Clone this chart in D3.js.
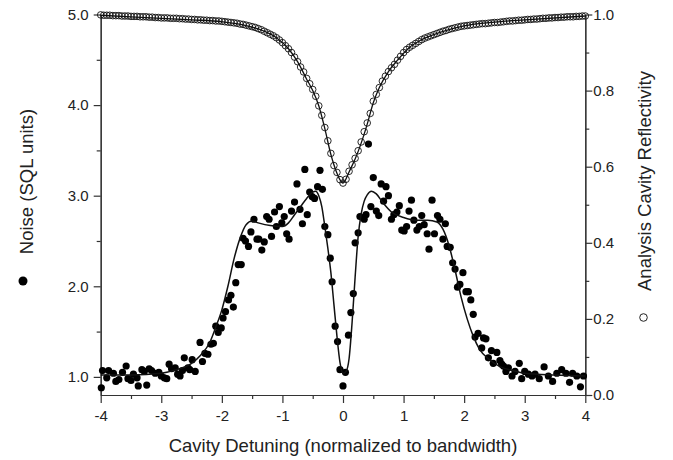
<!DOCTYPE html>
<html>
<head>
<meta charset="utf-8">
<script src="https://cdn.jsdelivr.net/npm/d3@7"></script>
<style>
  body { margin: 0; background: #fff; }
  svg { font-family: "Liberation Sans", Arial, sans-serif; }
  .axis path, .axis line { stroke: #333; stroke-width: 1.2; }
  .axis text { font-size: 15px; fill: #222; }
</style>
</head>
<body>
<svg id="chart" width="673" height="460"></svg>
<script>
// noise data (filled dots): detuning, noise in SQL units
const noiseX = [-3.99,-3.97,-3.90,-3.87,-3.79,-3.75,-3.70,-3.64,-3.58,-3.55,-3.50,-3.46,-3.40,-3.38,-3.32,-3.28,-3.24,-3.20,-3.16,-3.10,
  -3.04,-3.00,-2.95,-2.91,-2.87,-2.83,-2.77,-2.73,-2.69,-2.65,-2.62,-2.56,-2.53,-2.49,-2.44,-2.36,-2.32,-2.28,-2.23,-2.18,
  -2.14,-2.10,-2.06,-2.01,-1.98,-1.94,-1.89,-1.85,-1.81,-1.77,-1.73,-1.68,-1.65,-1.61,-1.56,-1.52,-1.47,-1.42,-1.39,-1.34,
  -1.30,-1.26,-1.22,-1.18,-1.13,-1.10,-1.05,-1.01,-0.97,-0.93,-0.89,-0.85,-0.80,-0.76,-0.71,-0.67,-0.63,-0.59,-0.55,-0.51,
  -0.47,-0.42,-0.38,-0.34,-0.30,-0.25,-0.21,-0.18,-0.13,-0.09,-0.05,0.00,0.04,0.09,0.13,0.17,0.20,0.25,0.28,0.35,
  0.38,0.42,0.46,0.50,0.55,0.59,0.63,0.67,0.71,0.75,0.80,0.84,0.89,0.93,0.97,1.01,1.05,1.09,1.13,1.17,
  1.22,1.26,1.30,1.34,1.39,1.42,1.47,1.51,1.56,1.60,1.65,1.69,1.72,1.77,1.81,1.85,1.89,1.93,1.98,2.03,
  2.07,2.11,2.15,2.18,2.23,2.29,2.32,2.36,2.40,2.45,2.48,2.54,2.59,2.62,2.65,2.69,2.73,2.79,2.84,2.91,
  2.95,3.00,3.06,3.12,3.17,3.24,3.32,3.39,3.46,3.53,3.61,3.68,3.74,3.79,3.86,3.92,3.97];
const noiseY = [0.88,1.07,0.99,1.07,1.04,0.95,0.97,1.05,1.12,0.98,0.96,1.03,0.99,0.90,1.08,1.06,0.91,1.09,1.07,1.04,
  1.05,1.01,0.99,0.98,1.14,1.09,1.10,1.03,1.01,1.07,1.21,1.10,1.08,1.19,1.06,1.38,1.17,1.26,1.25,1.36,
  1.37,1.56,1.49,1.54,1.65,1.72,1.85,1.90,1.77,2.04,2.24,2.24,2.53,2.50,2.44,2.60,2.74,2.52,2.52,2.40,
  2.49,2.77,2.74,2.55,2.82,2.66,2.88,2.70,2.77,2.58,2.52,2.83,2.93,3.13,2.85,2.69,3.29,2.79,3.04,2.99,
  2.97,3.10,3.28,3.07,2.66,2.57,2.31,2.05,1.56,1.39,1.08,0.90,1.05,1.46,1.71,1.92,2.48,2.59,2.77,2.74,
  2.79,3.57,2.88,3.20,2.83,2.78,3.13,2.94,3.10,3.00,2.74,2.79,2.82,2.89,2.62,2.61,2.66,2.83,2.95,2.73,
  2.62,2.66,2.78,2.68,2.58,2.41,2.95,2.58,2.78,2.74,2.52,2.69,2.44,2.43,2.26,2.19,1.99,2.02,2.15,1.94,
  1.94,1.85,1.69,1.44,1.48,1.32,1.43,1.42,1.21,1.29,1.15,1.27,1.18,1.14,1.12,1.06,1.10,1.01,1.06,1.15,
  0.98,1.06,1.03,1.01,1.03,0.98,1.11,1.01,0.95,1.04,1.08,1.04,0.94,1.04,1.01,0.89,1.01];

// noise fit (solid line)
const noiseFitX = [-4.0,-3.5,-3.0,-2.75,-2.5,-2.35,-2.2,-2.1,-2.0,-1.9,-1.8,-1.7,-1.6,-1.5,-1.4,-1.2,-1.0,-0.9,-0.8,-0.7,
  -0.6,-0.5,-0.45,-0.4,-0.35,-0.3,-0.25,-0.2,-0.15,-0.1,-0.05,0.0,0.05,0.1,0.15,0.2,0.25,0.3,0.35,0.4,
  0.47,0.55,0.65,0.8,1.0,1.2,1.4,1.55,1.65,1.75,1.85,1.95,2.05,2.15,2.25,2.4,2.6,2.8,3.0,3.5,4.0];
const noiseFitY = [1.02,1.02,1.04,1.08,1.15,1.24,1.38,1.55,1.74,2.00,2.30,2.53,2.68,2.72,2.70,2.67,2.66,2.70,2.79,2.88,
  2.97,3.04,3.05,3.00,2.88,2.66,2.42,2.15,1.80,1.45,1.16,1.04,1.06,1.20,1.60,2.10,2.55,2.80,2.94,3.01,
  3.05,3.02,2.93,2.82,2.76,2.73,2.73,2.71,2.63,2.45,2.18,1.88,1.64,1.45,1.31,1.20,1.11,1.07,1.04,1.02,1.01];

// reflectivity data (open circles), detuning grid -4 .. 4 in 0.05 steps
const reflX = d3.range(161).map(i => -4 + i * 0.05);
const reflY = [
  0.999,0.998,0.998,0.998,0.997,0.997,0.997,0.996,0.996,0.996,
  0.995,0.995,0.995,0.994,0.994,0.994,0.993,0.993,0.992,0.992,
  0.991,0.991,0.991,0.990,0.990,0.990,0.989,0.989,0.988,0.988,
  0.987,0.987,0.986,0.986,0.985,0.985,0.984,0.984,0.983,0.983,
  0.982,0.981,0.980,0.979,0.978,0.977,0.975,0.974,0.972,0.970,
  0.968,0.966,0.963,0.960,0.956,0.952,0.948,0.944,0.939,0.933,
  0.926,0.918,0.910,0.900,0.888,0.876,0.862,0.849,0.832,0.818,
  0.803,0.785,0.760,0.735,0.703,0.668,0.635,0.603,0.585,0.566,
  0.557,
  0.567,0.588,0.605,0.622,0.642,0.665,0.692,0.715,0.740,0.772,
  0.790,0.808,0.825,0.838,0.850,0.860,0.869,0.880,0.890,0.900,
  0.908,0.914,0.919,0.924,0.929,0.934,0.938,0.941,0.944,0.947,
  0.950,0.953,0.956,0.958,0.961,0.963,0.965,0.967,0.969,0.970,
  0.971,0.972,0.973,0.974,0.975,0.976,0.976,0.977,0.978,0.979,
  0.979,0.980,0.981,0.982,0.983,0.983,0.984,0.985,0.985,0.986,
  0.987,0.987,0.988,0.988,0.989,0.990,0.990,0.991,0.991,0.992,
  0.992,0.993,0.993,0.994,0.994,0.994,0.995,0.995,0.996,0.996];

// reflectivity fit (solid line)
const reflFitX = [-4.0,-3.0,-2.5,-2.0,-1.6,-1.3,-1.1,-0.9,-0.75,-0.6,-0.5,-0.4,-0.3,-0.2,-0.1,-0.03,0.0,
  0.03,0.1,0.2,0.3,0.4,0.5,0.6,0.75,0.9,1.1,1.3,1.6,2.0,2.5,3.0,4.0];
const reflFitY = [0.998,0.990,0.986,0.981,0.971,0.956,0.939,0.910,0.876,0.830,0.800,0.760,0.700,0.632,0.583,0.561,0.557,
  0.562,0.586,0.620,0.662,0.712,0.768,0.808,0.850,0.880,0.914,0.934,0.953,0.970,0.980,0.986,0.996];

const xTicks = [-4, -3, -2, -1, 0, 1, 2, 3, 4];
const yLeftTicks = [1, 2, 3, 4, 5];
const yRightTicks = [0, 0.2, 0.4, 0.6, 0.8, 1.0];

const svg = d3.select('#chart');
const x = d3.scaleLinear().domain([-4, 4]).range([100.7, 585.3]);
const yL = d3.scaleLinear().domain([0.8, 5]).range([395, 14.5]);
const yR = d3.scaleLinear().domain([0, 1]).range([395, 14.5]);

// axes: major ticks labelled, minor ticks shorter
const minorX = d3.range(-3.5, 4, 1);
svg.append('g').attr('class', 'axis').attr('transform', 'translate(0,395)')
  .call(d3.axisBottom(x).tickValues(minorX).tickSize(4).tickFormat('').tickSizeOuter(0));
svg.append('g').attr('class', 'axis').attr('transform', 'translate(0,395)')
  .call(d3.axisBottom(x).tickValues(xTicks).tickSize(8).tickSizeOuter(0).tickPadding(7).tickFormat(d => String(d)));

svg.append('g').attr('class', 'axis').attr('transform', 'translate(100.7,0)')
  .call(d3.axisLeft(yL).tickValues([1.5, 2.5, 3.5, 4.5]).tickSize(4).tickFormat('').tickSizeOuter(0));
svg.append('g').attr('class', 'axis').attr('transform', 'translate(100.7,0)')
  .call(d3.axisLeft(yL).tickValues(yLeftTicks).tickSize(7).tickSizeOuter(0).tickPadding(5).tickFormat(d3.format('.1f')));

svg.append('g').attr('class', 'axis').attr('transform', 'translate(585.3,0)')
  .call(d3.axisRight(yR).tickValues([0.1, 0.3, 0.5, 0.7, 0.9]).tickSize(4).tickFormat('').tickSizeOuter(0));
svg.append('g').attr('class', 'axis').attr('transform', 'translate(585.3,0)')
  .call(d3.axisRight(yR).tickValues(yRightTicks).tickSize(7).tickSizeOuter(0).tickPadding(1).tickFormat(d3.format('.1f')));

// noise dots and fit
svg.append('g').selectAll('circle')
  .data(noiseX.map((d, i) => [d, noiseY[i]]))
  .join('circle')
  .attr('cx', d => x(d[0]))
  .attr('cy', d => yL(d[1]))
  .attr('r', 3.6)
  .attr('fill', '#000');

const lineL = d3.line().x((d, i) => x(noiseFitX[i])).y(d => yL(d)).curve(d3.curveMonotoneX);
svg.append('path').attr('d', lineL(noiseFitY))
  .attr('fill', 'none').attr('stroke', '#111').attr('stroke-width', 1.5);

// reflectivity circles and fit
svg.append('g').selectAll('circle')
  .data(reflX.map((d, i) => [d, reflY[i]]))
  .join('circle')
  .attr('cx', d => x(d[0]))
  .attr('cy', d => yR(d[1]))
  .attr('r', 3.3)
  .attr('fill', 'none')
  .attr('stroke', '#111')
  .attr('stroke-width', 0.9);

const lineR = d3.line().x((d, i) => x(reflFitX[i])).y(d => yR(d)).curve(d3.curveMonotoneX);
svg.append('path').attr('d', lineR(reflFitY))
  .attr('fill', 'none').attr('stroke', '#111').attr('stroke-width', 1.3);

// titles
svg.append('text').attr('x', 343).attr('y', 452).attr('text-anchor', 'middle')
  .attr('font-size', 18.5).attr('fill', '#222').text('Cavity Detuning (normalized to bandwidth)');

svg.append('text').attr('transform', 'translate(33,181.5) rotate(-90)').attr('text-anchor', 'middle')
  .attr('font-size', 18.5).attr('fill', '#222').text('Noise (SQL units)');
svg.append('circle').attr('cx', 23).attr('cy', 281).attr('r', 4.5).attr('fill', '#000');

svg.append('text').attr('transform', 'translate(651,181) rotate(-90)').attr('text-anchor', 'middle')
  .attr('font-size', 18.5).attr('fill', '#222').text('Analysis Cavity Reflectivity');
svg.append('circle').attr('cx', 643.5).attr('cy', 317.5).attr('r', 3.8)
  .attr('fill', 'none').attr('stroke', '#222').attr('stroke-width', 1);
</script>
</body>
</html>
